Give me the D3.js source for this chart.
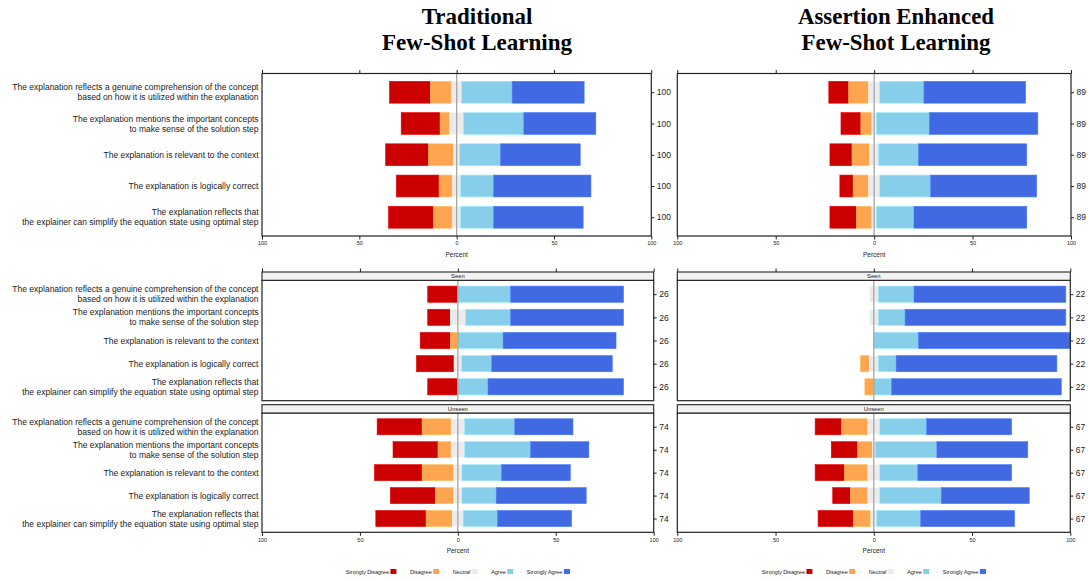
<!DOCTYPE html>
<html>
<head>
<meta charset="utf-8">
<script src="https://cdn.jsdelivr.net/npm/d3@7"></script>
<style>
  html, body { margin: 0; padding: 0; background: #fff; }
  svg { display: block; }
  text.sans { font-family: "Liberation Sans", Arial, Helvetica, sans-serif; }
  text.serif { font-family: "Liberation Serif", "Times New Roman", Times, serif; font-weight: bold; }
</style>
</head>
<body>
<script>
// ---------------- DATA ----------------
const questions = [
  ["The explanation reflects a genuine comprehension of the concept", "based on how it is utilized within the explanation"],
  ["The explanation mentions the important concepts", "to make sense of the solution step"],
  ["The explanation is relevant to the context"],
  ["The explanation is logically correct"],
  ["The explanation reflects that", "the explainer can simplify the equation state using optimal step"]
];
const levels = ["Strongly Disagree", "Disagree", "Neutral", "Agree", "Strongly Agree"];
const titles = [["Traditional", "Few-Shot Learning"], ["Assertion Enhanced", "Few-Shot Learning"]];
const stripLabels = ["Seen", "Unseen"];
const tickValues = [-100, -50, 0, 50, 100];

// response counts per question: [SD, D, N, A, SA]
const traditionalAll    = [[21,11,5,26,37],[20,5,7,31,37],[22,13,3,21,41],[22,7,4,17,50],[23,10,4,17,46]];
const traditionalSeen   = [[4,0,0,7,15],[3,0,2,6,15],[4,1,0,6,15],[5,0,1,4,16],[4,0,0,4,18]];
const traditionalUnseen = [[17,11,5,19,22],[17,5,5,25,22],[18,12,3,15,26],[17,7,3,13,34],[19,10,4,13,28]];
const assertionAll      = [[9,9,5,20,46],[9,5,2,24,49],[10,8,4,18,49],[6,7,5,23,48],[12,7,2,17,51]];
const assertionSeen     = [[0,0,1,4,17],[0,0,1,3,18],[0,0,0,5,17],[0,1,1,2,18],[0,1,0,2,19]];
const assertionUnseen   = [[9,9,4,16,29],[9,5,1,21,31],[10,8,4,13,32],[6,6,4,21,30],[12,6,2,15,32]];

// ---------------- STYLE ----------------
const colors = ["#CC0000", "#FFA54F", "#EBEBEB", "#87CEEB", "#4169E1"];
const W = 1089, H = 581;
const INK = "#222";

const svg = d3.select("body").append("svg").attr("width", W).attr("height", H);

function rowTotal(r) { return d3.sum(r); }

function drawPanel(cfg) {
  const g = svg.append("g");
  const x = d3.scaleLinear().domain([-100, 100]).range([cfg.x0, cfg.x1]);
  const y = d3.scalePoint().domain(d3.range(questions.length)).range([cfg.y0, cfg.y1]).padding(0.6);
  const bh = y.step() * 0.7;

  // bars
  cfg.data.forEach((row, i) => {
    const tot = rowTotal(row);
    const pct = row.map(v => v / tot * 100);
    let start = -(pct[0] + pct[1] + pct[2] / 2);
    pct.forEach((p, k) => {
      if (p > 0) {
        g.append("rect")
          .attr("x", x(start)).attr("width", x(start + p) - x(start))
          .attr("y", y(i) - bh / 2).attr("height", bh)
          .attr("fill", colors[k])
          .attr("stroke", d3.color(colors[k]).brighter(0.4)).attr("stroke-width", 0.6);
      }
      start += p;
    });
  });

  // reference line at zero
  g.append("line").attr("x1", x(0)).attr("x2", x(0))
    .attr("y1", cfg.y0).attr("y2", cfg.y1)
    .attr("stroke", "#a6a6a6").attr("stroke-width", 1.3);

  // border
  g.append("rect").attr("x", cfg.x0).attr("y", cfg.y0)
    .attr("width", cfg.x1 - cfg.x0).attr("height", cfg.y1 - cfg.y0)
    .attr("fill", "none").attr("stroke", INK).attr("stroke-width", 1.2);

  // right axis: totals
  const ax = g.append("g").attr("transform", `translate(${cfg.x1},0)`)
    .call(d3.axisRight(y).tickSize(3).tickPadding(2.5).tickFormat(i => rowTotal(cfg.data[i])));
  ax.select(".domain").remove();
  ax.selectAll("line").attr("stroke", INK);
  ax.selectAll("text").attr("class", "sans").attr("font-size", 8.5).attr("fill", INK);

  // left question labels
  if (cfg.labels) {
    questions.forEach((lines, i) => {
      const n = lines.length;
      lines.forEach((t, j) => {
        g.append("text").attr("class", "sans")
          .attr("x", 258.5)
          .attr("y", y(i) + (j - (n - 1) / 2) * 10 + 3)
          .attr("text-anchor", "end")
          .attr("font-size", 8.5).attr("fill", INK)
          .text(t);
      });
    });
  }

  // strip
  if (cfg.strip) {
    const sh = 8.3;
    g.append("rect").attr("x", cfg.x0).attr("y", cfg.y0 - sh)
      .attr("width", cfg.x1 - cfg.x0).attr("height", sh)
      .attr("fill", "#f3f3f3").attr("stroke", INK).attr("stroke-width", 1.1);
    g.append("text").attr("class", "sans").attr("x", (cfg.x0 + cfg.x1) / 2).attr("y", cfg.y0 - sh / 2 + 2)
      .attr("text-anchor", "middle").attr("font-size", 5.8).attr("fill", INK)
      .text(cfg.strip);
  }
  return x;
}

function topTicks(x, yTop) {
  const a = svg.append("g").attr("transform", `translate(0,${yTop})`)
    .call(d3.axisTop(x).tickValues(tickValues).tickSize(3.5).tickFormat(""));
  a.select(".domain").remove();
  a.selectAll("line").attr("stroke", INK);
}

function bottomAxis(x, yBot) {
  const a = svg.append("g").attr("transform", `translate(0,${yBot})`)
    .call(d3.axisBottom(x).tickValues(tickValues).tickSize(3.5).tickPadding(1.8).tickFormat(d => Math.abs(d)));
  a.select(".domain").remove();
  a.selectAll("line").attr("stroke", INK);
  a.selectAll("text").attr("class", "sans").attr("font-size", 5.5).attr("fill", INK);
  svg.append("text").attr("class", "sans").attr("x", x(0)).attr("y", yBot + 20.5)
    .attr("text-anchor", "middle").attr("font-size", 6.5).attr("fill", INK).text("Percent");
}

function legend(cx, cy) {
  const g = svg.append("g");
  const fs = 5.45, gapTS = 1.5, sq = 6, gapItem = 13.5;
  const widths = levels.map(l => {
    const t = g.append("text").attr("class", "sans").attr("font-size", fs).text(l);
    const w = t.node().getComputedTextLength();
    t.remove();
    return w;
  });
  const total = d3.sum(widths) + levels.length * (gapTS + sq) + (levels.length - 1) * gapItem;
  let xx = cx - total / 2;
  levels.forEach((l, k) => {
    g.append("text").attr("class", "sans").attr("x", xx + widths[k]).attr("y", cy + 2)
      .attr("text-anchor", "end").attr("font-size", fs).attr("fill", INK).text(l);
    xx += widths[k] + gapTS;
    g.append("rect").attr("x", xx).attr("y", cy - 2.5).attr("width", sq).attr("height", 5)
      .attr("fill", colors[k]);
    xx += sq + gapItem;
  });
}

function title(lines, cx, widths) {
  lines.forEach((s, j) => {
    svg.append("text").attr("class", "serif")
      .attr("text-anchor", "middle")
      .attr("font-size", 24).attr("fill", "#000")
      .attr("x", cx).attr("y", 23.6 + j * 26.6)
      .attr("textLength", widths[j]).attr("lengthAdjust", "spacingAndGlyphs")
      .text(s);
  });
}

// ---------------- LAYOUT ----------------
title(titles[0], 477, [110.6, 190]);
title(titles[1], 896, [196, 189]);

// Top row: all responses
const xTL = drawPanel({ x0: 262, x1: 651.3, y0: 73.5, y1: 236, data: traditionalAll, labels: true });
topTicks(xTL, 73.5); bottomAxis(xTL, 236);
const xTR = drawPanel({ x0: 677.3, x1: 1071, y0: 73.5, y1: 236, data: assertionAll, labels: false });
topTicks(xTR, 73.5); bottomAxis(xTR, 236);

// Bottom: Seen / Unseen
const xBL = drawPanel({ x0: 262, x1: 653.7, y0: 280.3, y1: 400.7, data: traditionalSeen, labels: true, strip: stripLabels[0] });
drawPanel({ x0: 262, x1: 653.7, y0: 413, y1: 532.3, data: traditionalUnseen, labels: true, strip: stripLabels[1] });
topTicks(xBL, 272); bottomAxis(xBL, 532.3);

const xBR = drawPanel({ x0: 677.3, x1: 1070.3, y0: 280.3, y1: 400.7, data: assertionSeen, labels: false, strip: stripLabels[0] });
drawPanel({ x0: 677.3, x1: 1070.3, y0: 413, y1: 532.3, data: assertionUnseen, labels: false, strip: stripLabels[1] });
topTicks(xBR, 272); bottomAxis(xBR, 532.3);

legend(457.8, 571.5);
legend(873.8, 571.5);
</script>
</body>
</html>
